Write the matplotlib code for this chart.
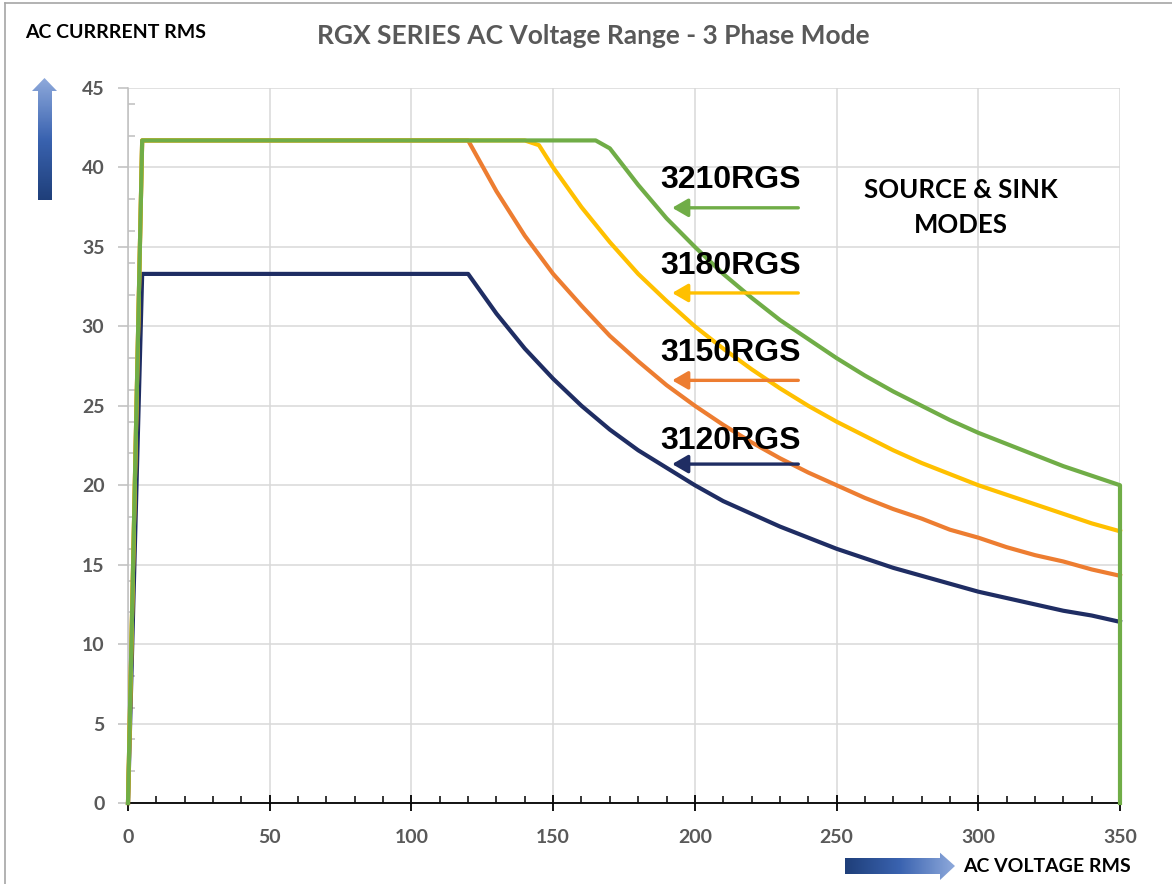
import matplotlib
matplotlib.use('Agg')
import matplotlib.pyplot as plt
import numpy as np
from matplotlib.patches import Polygon
from matplotlib.colors import LinearSegmentedColormap
from matplotlib.ticker import MultipleLocator

# --- data ---
v_3210 = [0, 5, 165, 170, 180, 190, 200, 210, 220, 230, 240, 250, 260, 270, 280,
          290, 300, 310, 320, 330, 340, 350, 350]
i_3210 = [0, 41.7, 41.7, 41.2, 38.9, 36.8, 35.0, 33.3, 31.8, 30.4, 29.2, 28.0, 26.9,
          25.9, 25.0, 24.1, 23.3, 22.6, 21.9, 21.2, 20.6, 20.0, 0]

v_3180 = [0, 5, 140, 145, 150, 160, 170, 180, 190, 200, 210, 220, 230, 240, 250,
          260, 270, 280, 290, 300, 310, 320, 330, 340, 350]
i_3180 = [0, 41.7, 41.7, 41.4, 40.0, 37.5, 35.3, 33.3, 31.6, 30.0, 28.6, 27.3, 26.1,
          25.0, 24.0, 23.1, 22.2, 21.4, 20.7, 20.0, 19.4, 18.8, 18.2, 17.6, 17.1]

v_3150 = [0, 5, 120, 130, 140, 150, 160, 170, 180, 190, 200, 210, 220, 230, 240,
          250, 260, 270, 280, 290, 300, 310, 320, 330, 340, 350]
i_3150 = [0, 41.7, 41.7, 38.5, 35.7, 33.3, 31.3, 29.4, 27.8, 26.3, 25.0, 23.8, 22.7,
          21.7, 20.8, 20.0, 19.2, 18.5, 17.9, 17.2, 16.7, 16.1, 15.6, 15.2, 14.7, 14.3]

v_3120 = [0, 5, 120, 130, 140, 150, 160, 170, 180, 190, 200, 210, 220, 230, 240,
          250, 260, 270, 280, 290, 300, 310, 320, 330, 340, 350]
i_3120 = [0, 33.3, 33.3, 30.8, 28.6, 26.7, 25.0, 23.5, 22.2, 21.1, 20.0, 19.0, 18.2,
          17.4, 16.7, 16.0, 15.4, 14.8, 14.3, 13.8, 13.3, 12.9, 12.5, 12.1, 11.8, 11.4]

models = ['3210RGS', '3180RGS', '3150RGS', '3120RGS']
colors = ['#70AD47', '#FFC000', '#ED7D31', '#1F2D63']

plt.rcParams['font.family'] = ['Lato', 'DejaVu Sans']

W, H = 1172, 884
fig = plt.figure(figsize=(W / 100, H / 100), dpi=100)

ax = fig.add_axes([128 / W, 81 / H, (1120 - 128) / W, (803 - 88) / H])
series = [(v_3120, i_3120, colors[3]), (v_3150, i_3150, colors[2]),
          (v_3180, i_3180, colors[1]), (v_3210, i_3210, colors[0])]
for k, (v, i, c) in enumerate(series):
    ax.plot(v, i, color=c, lw=3.0, solid_joinstyle='round', zorder=3 + k, clip_on=False)

ax.set_xlim(0, 350)
ax.set_ylim(0, 45)
ax.xaxis.set_major_locator(MultipleLocator(50))
ax.xaxis.set_minor_locator(MultipleLocator(10))
ax.yaxis.set_major_locator(MultipleLocator(5))
ax.yaxis.set_minor_locator(MultipleLocator(2))
ax.grid(which='major', color='#D9D9D9', lw=1.1, zorder=0)
ax.set_axisbelow(True)
for s in ['top', 'right']:
    ax.spines[s].set_visible(False)
ax.spines['left'].set_color('#BFBFBF')
ax.spines['left'].set_linewidth(1.1)
ax.spines['bottom'].set_color('black')
ax.spines['bottom'].set_linewidth(1.3)
ax.tick_params(axis='x', which='major', direction='inout', length=12, width=1.3,
               color='black', pad=13, labelsize=14, labelcolor='#595959')
ax.tick_params(axis='x', which='minor', direction='in', length=5, width=1.1, color='black')
ax.tick_params(axis='y', which='major', direction='out', length=7, width=1.1,
               color='#BFBFBF', pad=10, labelsize=14, labelcolor='#595959')
ax.tick_params(axis='y', which='minor', direction='in', length=5, width=1.1, color='#BFBFBF')
for lab in ax.get_xticklabels() + ax.get_yticklabels():
    lab.set_fontweight('bold')

# model labels with arrows
label_y = [39.2, 33.8, 28.3, 22.8]
arrow_y = [37.46, 32.1, 26.6, 21.33]
for name, c, ty, ay in zip(models, colors, label_y, arrow_y):
    ax.text(187.7, ty, name, fontsize=23, fontweight='bold', color='black',
            family=['Liberation Sans', 'DejaVu Sans'],
            ha='left', va='center', zorder=10)
    ax.annotate('', xy=(192, ay), xytext=(236.5, ay),
                arrowprops=dict(arrowstyle='-|>,head_length=0.95,head_width=0.55',
                                color=c, lw=2.4, mutation_scale=10,
                                shrinkA=0, shrinkB=0), zorder=10)
ax.text(294, 37.5, 'SOURCE & SINK\nMODES', fontsize=18.5, fontweight='bold',
        ha='center', va='center', linespacing=1.55, zorder=10)

# overlay in pixel coordinates for titles, border and gradient arrows
ov = fig.add_axes([0, 0, 1, 1])
ov.set_xlim(0, W)
ov.set_ylim(H, 0)
ov.axis('off')
ov.plot([5, W], [3, 3], color='#A6A6A6', lw=1.2)
ov.plot([5, 5], [3, H], color='#A6A6A6', lw=1.2)
ov.text(593, 36, 'RGX SERIES AC Voltage Range - 3 Phase Mode', fontsize=19,
        fontweight='bold', color='#595959', ha='center', va='center')
ov.text(25, 32, 'AC CURRRENT RMS', fontsize=14, fontweight='bold', ha='left', va='center')
ov.text(963, 867, 'AC VOLTAGE RMS', fontsize=14, fontweight='bold', ha='left', va='center')

cmap = LinearSegmentedColormap.from_list('blu', ['#1F3F7A', '#3A63B0', '#8EA9DB'])
up = Polygon([(44.5, 78), (57, 91), (52, 91), (52, 200), (38, 200), (38, 91), (32, 91)],
             closed=True, facecolor='none', edgecolor='none')
ov.add_patch(up)
grad_v = np.linspace(1, 0, 100).reshape(-1, 1)
im = ov.imshow(grad_v, cmap=cmap, extent=(32, 57, 200, 78), origin='upper', aspect='auto')
im.set_clip_path(up)
right = Polygon([(845, 858), (940, 858), (940, 852.7), (955, 866), (940, 880), (940, 874),
                 (845, 874)], closed=True, facecolor='none', edgecolor='none')
ov.add_patch(right)
grad_h = np.linspace(0, 1, 100).reshape(1, -1)
im2 = ov.imshow(grad_h, cmap=cmap, extent=(845, 955, 880, 852.7), origin='upper', aspect='auto')
im2.set_clip_path(right)
ov.set_xlim(0, W)
ov.set_ylim(H, 0)

fig.savefig('out.png', dpi=100)
